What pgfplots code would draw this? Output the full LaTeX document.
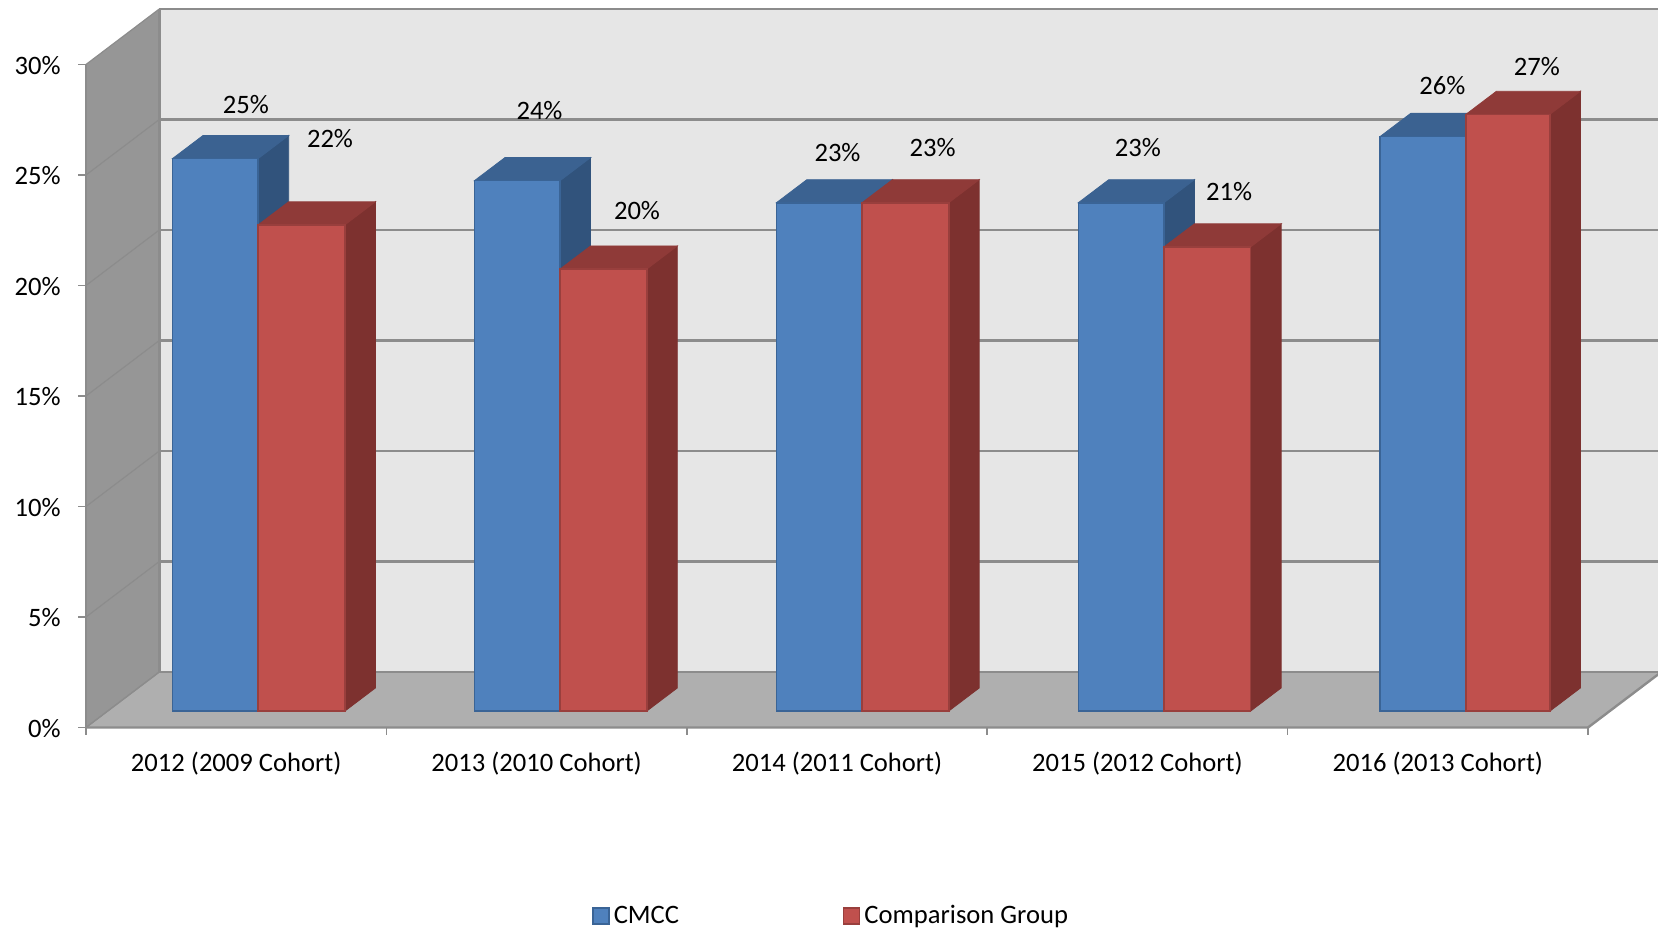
\documentclass[border=0pt]{standalone}
\usepackage{fontspec}
\setmainfont{Carlito}
\usepackage{pgfplots}
\pgfplotsset{compat=1.18}

\definecolor{wallback}{HTML}{E6E6E6}
\definecolor{wallfloor}{HTML}{AFAFAF}
\definecolor{wallleft}{HTML}{969696}
\definecolor{gridc}{HTML}{8C8C8C}
\definecolor{bluefront}{HTML}{4F81BD}
\definecolor{bluetop}{HTML}{3B6291}
\definecolor{blueside}{HTML}{31537C}
\definecolor{blueedge}{HTML}{3A6496}
\definecolor{redfront}{HTML}{C0504D}
\definecolor{redtop}{HTML}{8F3A38}
\definecolor{redside}{HTML}{7D312F}
\definecolor{rededge}{HTML}{993F3D}

\newcommand{\chartfont}{\fontsize{13.3}{15}\selectfont}

% x0, x1, value, front, top, side, edge
\newcommand{\threedbar}[7]{
  \addplot3[fill=#6, draw=#6, line width=0.4pt] coordinates {(#2,0.297,0) (#2,0.712,0) (#2,0.712,#3) (#2,0.297,#3)} --cycle;
  \addplot3[fill=#5, draw=#5, line width=0.4pt] coordinates {(#1,0.297,#3) (#2,0.297,#3) (#2,0.712,#3) (#1,0.712,#3)} --cycle;
  \addplot3[fill=#4, draw=#7, line width=0.8pt] coordinates {(#1,0.297,0) (#2,0.297,0) (#2,0.297,#3) (#1,0.297,#3)} --cycle;
}
% one gridline over the left and the back wall
\newcommand{\wallgrid}[1]{
  \addplot3[draw=gridc, line width=0.6pt] coordinates {(0,0,#1) (0,1,#1)};
  \addplot3[draw=gridc, line width=1.2pt] coordinates {(0,1,#1) (5,1,#1)};
}

\begin{document}
\begin{tikzpicture}
\path[use as bounding box, clip] (0,0) rectangle (829pt,464.5pt);
\begin{axis}[
  at={(43pt,100.75pt)}, anchor=south west,
  x={(150.2pt,0pt)}, y={(36.65pt,27.75pt)}, z={(0pt,11.05pt)},
  xmin=0, xmax=5, ymin=0, ymax=1, zmin=0, zmax=30,
  clip=false,
  axis lines=left,
  axis line style={draw=none, -},
  major tick length=0pt,
  ytick=\empty,
  xtick={0.5,1.5,2.5,3.5,4.5},
  xticklabels={2012 (2009 Cohort),2013 (2010 Cohort),2014 (2011 Cohort),2015 (2012 Cohort),2016 (2013 Cohort)},
  ztick={0,5,10,15,20,25,30},
  zticklabels={0\%,5\%,10\%,15\%,20\%,25\%,30\%},
  xticklabel style={font=\chartfont, anchor=north, yshift=-8.5pt},
  zticklabel style={font=\chartfont, anchor=east, xshift=-9.2pt, yshift=-0.4pt},
  legend columns=2,
  legend style={at={(0.4737,-0.2625)}, anchor=center, draw=none, fill=none, font=\chartfont, inner sep=0pt,
    /tikz/every even column/.append style={column sep=80pt}},
  legend image code/.code={\draw[#1, line width=0.7pt] (0pt,-4pt) rectangle (8pt,4pt);},
]
  % walls
  \addplot3[fill=wallback, draw=none, forget plot] coordinates {(0,1,0) (5,1,0) (5,1,30) (0,1,30)} --cycle;
  \addplot3[fill=wallfloor, draw=none, forget plot] coordinates {(0,0,0) (5,0,0) (5,1,0) (0,1,0)} --cycle;
  \addplot3[fill=wallleft, draw=none, forget plot] coordinates {(0,0,0) (0,1,0) (0,1,30) (0,0,30)} --cycle;
  \pgfplotsset{every axis plot/.append style={forget plot}}
  \wallgrid{0}\wallgrid{5}\wallgrid{10}\wallgrid{15}\wallgrid{20}\wallgrid{25}\wallgrid{30}
  \addplot3[draw=gridc, line width=1.2pt] coordinates {(0,1,0) (0,1,30)};
  \addplot3[draw=gridc, line width=1.2pt] coordinates {(5,1,0) (5,0,0) (0,0,0)};
  \addplot3[draw=gridc, line width=0.6pt] coordinates {(0,0,0) (0,1,0)};
  \addplot3[draw=gridc, line width=0.6pt] coordinates {(0,0,0) (0,0,30)};
  % ticks
  \foreach \t in {0,5,...,30}{
    \edef\tmp{\noexpand\draw[gridc, line width=0.8pt] (axis cs:0,0,\t) -- ++(-4pt,0pt);}\tmp
  }
  \foreach \t in {0,1,...,5}{
    \edef\tmp{\noexpand\draw[gridc, line width=0.8pt] (axis cs:\t,0,0) -- ++(0pt,-4pt);}\tmp
  }
  % bars
  \threedbar{0.2160}{0.5010}{25}{bluefront}{bluetop}{blueside}{blueedge}
  \threedbar{0.5010}{0.7896}{22}{redfront}{redtop}{redside}{rededge}
  \threedbar{1.2210}{1.5060}{24}{bluefront}{bluetop}{blueside}{blueedge}
  \threedbar{1.5060}{1.7946}{20}{redfront}{redtop}{redside}{rededge}
  \threedbar{2.2260}{2.5110}{23}{bluefront}{bluetop}{blueside}{blueedge}
  \threedbar{2.5110}{2.7996}{23}{redfront}{redtop}{redside}{rededge}
  \threedbar{3.2310}{3.5160}{23}{bluefront}{bluetop}{blueside}{blueedge}
  \threedbar{3.5160}{3.8046}{21}{redfront}{redtop}{redside}{rededge}
  \threedbar{4.2360}{4.5214}{26}{bluefront}{bluetop}{blueside}{blueedge}
  \threedbar{4.5214}{4.8010}{27}{redfront}{redtop}{redside}{rededge}
  \addlegendimage{fill=bluefront, draw=blueedge}
  \addlegendentry{CMCC}
  \addlegendimage{fill=redfront, draw=rededge}
  \addlegendentry{Comparison Group}
\end{axis}
% value labels, positions in reference pixels
\newcommand{\vlabel}[3]{\node[font=\chartfont, inner sep=0pt] at ({#1*0.5pt},{(929-#2-1)*0.5pt}) {#3};}
\vlabel{245.8}{103.6}{25\%}
\vlabel{330}{137.5}{22\%}
\vlabel{539.5}{110}{24\%}
\vlabel{637}{209.4}{20\%}
\vlabel{837.5}{151.2}{23\%}
\vlabel{932.6}{147}{23\%}
\vlabel{1137.8}{147}{23\%}
\vlabel{1229}{190.3}{21\%}
\vlabel{1442.3}{84.6}{26\%}
\vlabel{1536.8}{65.6}{27\%}
\end{tikzpicture}
\end{document}
